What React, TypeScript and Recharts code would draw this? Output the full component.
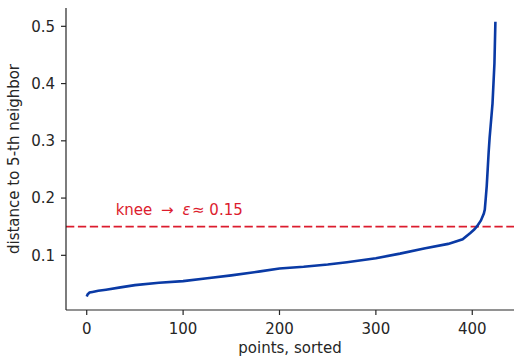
import React from 'react';
import {
  LineChart,
  Line,
  XAxis,
  YAxis,
  ReferenceLine,
  ReferenceDot,
} from 'recharts';

// sorted k-distances (k = 5)
const pointIndex = [
  0, 1, 3, 6, 12, 20, 35, 50, 75, 100, 125, 150, 180, 200, 225, 250, 270, 300,
  325, 350, 375, 390, 398, 402, 405, 409, 412, 413, 414, 415, 416, 417, 418,
  419, 420, 421, 422, 423, 424,
];
const kDistance = [
  0.028, 0.032, 0.035, 0.036, 0.038, 0.04, 0.044, 0.048, 0.052, 0.055, 0.06,
  0.065, 0.072, 0.077, 0.08, 0.084, 0.088, 0.095, 0.103, 0.112, 0.12, 0.128,
  0.139, 0.145, 0.151, 0.161, 0.173, 0.18, 0.2, 0.221, 0.25, 0.28, 0.305, 0.325,
  0.345, 0.365, 0.4, 0.435, 0.508,
];
const xTicks = [0, 100, 200, 300, 400];
const yTicks = [0.1, 0.2, 0.3, 0.4, 0.5];

const epsilon = 0.15;
const kneeLabelAt = { x: 30, y: 0.17 };

const FONT = '"DejaVu Sans", sans-serif';
const INK = '#262626';
const RED = '#dc1c2e';
const BLUE = '#0a3aa5';

const data = pointIndex.map((x, i) => ({ x, d: kDistance[i] }));

export default function App() {
  return (
    <div style={{ position: 'absolute', left: 0, top: 0, fontFamily: FONT }}>
      <LineChart
        width={514}
        height={357}
        data={data}
        margin={{ top: 8, right: 0, bottom: 0, left: 0 }}
      >
        <XAxis
          dataKey="x"
          type="number"
          domain={[-21.5, 443.3]}
          allowDataOverflow
          ticks={xTicks}
          height={47}
          tickSize={5}
          tickMargin={8}
          tick={{ fill: INK, fontSize: 15, fontFamily: FONT }}
          axisLine={{ stroke: INK, strokeWidth: 1.2 }}
          tickLine={{ stroke: INK, strokeWidth: 1.2 }}
          label={{
            content: (props: any) => {
              const vb = props.viewBox;
              return (
                <text
                  x={vb.x + vb.width / 2}
                  y={vb.y + 43}
                  textAnchor="middle"
                  fill={INK}
                  fontSize={15}
                  fontFamily={FONT}
                >
                  points, sorted
                </text>
              );
            },
          }}
        />
        <YAxis
          type="number"
          domain={[0.0045, 0.532]}
          allowDataOverflow
          ticks={yTicks}
          width={66}
          tickSize={5}
          tickMargin={6}
          tick={{ fill: INK, fontSize: 15, fontFamily: FONT }}
          axisLine={{ stroke: INK, strokeWidth: 1.2 }}
          tickLine={{ stroke: INK, strokeWidth: 1.2 }}
          label={{
            content: (props: any) => {
              const vb = props.viewBox;
              const cy = vb.y + vb.height / 2;
              return (
                <text
                  x={14}
                  y={cy}
                  transform={`rotate(-90 14 ${cy})`}
                  textAnchor="middle"
                  dominantBaseline="central"
                  fill={INK}
                  fontSize={15}
                  fontFamily={FONT}
                >
                  distance to 5-th neighbor
                </text>
              );
            },
          }}
        />
        <ReferenceLine
          y={epsilon}
          stroke={RED}
          strokeWidth={1.8}
          strokeDasharray="8.3 3.6"
        />
        <ReferenceDot
          x={kneeLabelAt.x}
          y={kneeLabelAt.y}
          r={0}
          fill="none"
          stroke="none"
          label={{
            content: (props: any) => {
              const vb = props.viewBox;
              return (
                <text
                  x={vb.x}
                  y={vb.y}
                  fill={RED}
                  fontSize={15}
                  fontFamily={FONT}
                >
                  knee
                  <tspan dx={4}>{' \u2192 '}</tspan>
                  <tspan dx={4} fontStyle="italic">{'\u03b5'}</tspan>
                  <tspan dx={1.5}>{'\u2248'}</tspan>
                  <tspan>{' 0.15'}</tspan>
                </text>
              );
            },
          }}
        />
        <Line
          type="linear"
          dataKey="d"
          stroke={BLUE}
          strokeWidth={2.6}
          dot={false}
          isAnimationActive={false}
        />
      </LineChart>
    </div>
  );
}
